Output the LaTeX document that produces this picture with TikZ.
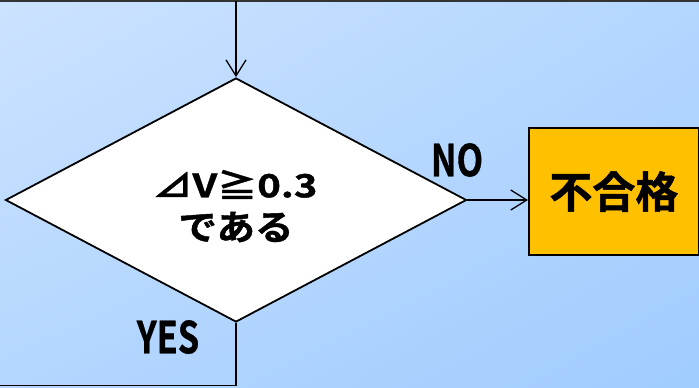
\documentclass[tikz,border=0pt]{standalone}
\usepackage{fontspec}
\usetikzlibrary{shapes.geometric,arrows.meta,shadings}
\newfontfamily\jp{Noto Sans CJK JP Bold}[FakeBold=1.2]
\newfontfamily\jpw{Noto Sans CJK JP Bold}[FakeBold=1.2,FakeStretch=1.25]
\newfontfamily\jpm{Noto Sans CJK JP Bold}[FakeBold=1.2,FakeStretch=1.1]
\newfontfamily\jpn{Noto Sans CJK JP Bold}[FakeBold=0.8,FakeStretch=0.78]
\definecolor{bgA}{RGB}{204,227,255}
\definecolor{bgB}{RGB}{180,214,255}
\definecolor{bgC}{RGB}{160,204,254}
\definecolor{boxor}{RGB}{255,192,0}
\tikzset{
  line/.style={draw=black, line width=1.5bp},
  barb/.style={-{Straight Barb[length=16bp,width=20bp,line width=1.3bp]}},
  lbl/.style={font=\jpn\fontsize{44bp}{44bp}\selectfont, inner sep=0},
}
\begin{document}
\begin{tikzpicture}[x=1bp,y=-1bp]
\useasboundingbox (0,0) rectangle (699,387);
\shade[upper left=bgA, upper right=bgB, lower left=bgB, lower right=bgC] (0,0) rectangle (699,387);
\coordinate (tl) at (0,0.8);
\coordinate (tr) at (699,0.8);
\coordinate (top) at (236,0.8);
\coordinate (bl) at (0,385.5);
\node[diamond, draw, line width=1.8bp, fill=white, minimum width=461bp, minimum height=244bp, inner sep=0] (dec) at (236,200) {};
\node[font=\jpw\fontsize{32bp}{32bp}\selectfont, inner sep=0] (c1) at (235,184.5) {⊿V≧0.3};
\node[font=\jpm\fontsize{35bp}{35bp}\selectfont, inner sep=0] (c2) at (236,227) {である};
\node[draw, line width=1.8bp, fill=boxor, minimum width=170bp, minimum height=127bp, inner sep=0, anchor=west,
      font=\jp\fontsize{43bp}{43bp}\selectfont] (ng) at (528,191.5) {不合格};
\node[lbl] (no) at (457,160) {NO};
\node[lbl] (yes) at (168,337) {YES};
\draw[line, draw=black!80] (tl) -- (tr);
\draw[line, barb] (top) -- (dec.north);
\draw[line, barb] (dec.east) -- (ng.west |- dec.east);
\draw[line] (dec.south) |- (bl);
\end{tikzpicture}
\end{document}
